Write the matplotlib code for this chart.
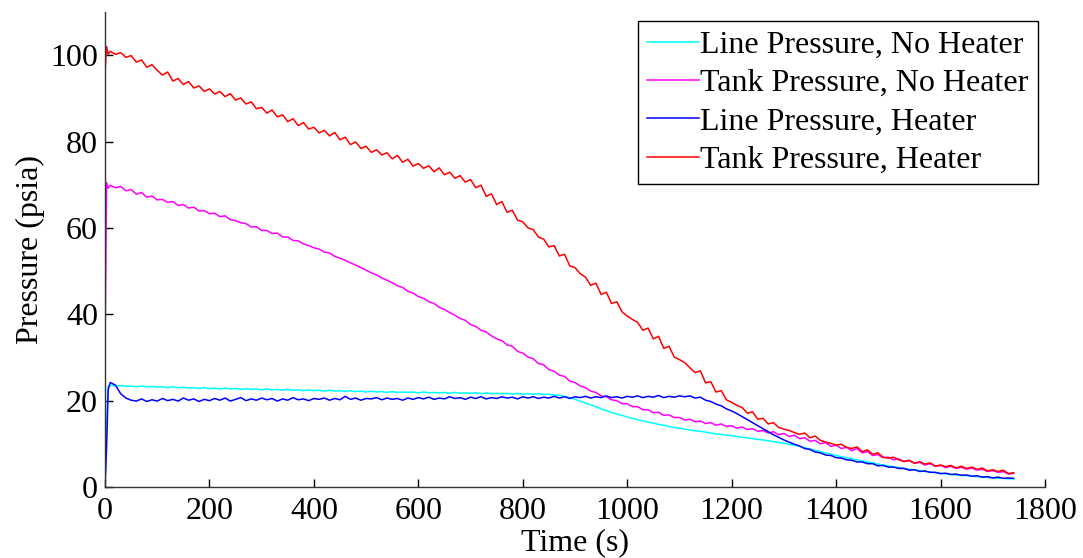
import numpy as np
import matplotlib
matplotlib.use("Agg")
import matplotlib.pyplot as plt

# logger samples: start-up transient, then one reading every 10 s
time_s = np.concatenate([[0, 3, 6], np.arange(10, 1750, 10)])

line_no_heater = [
    0.0, 14.0, 23.3,
    23.6, 23.4, 23.5, 23.3, 23.4, 23.2, 23.4, 23.2, 23.3, 23.1,
    23.2, 23.0, 23.2, 23.0, 23.1, 22.9, 23.0, 22.8, 23.0, 22.8,
    22.9, 22.7, 22.9, 22.7, 22.8, 22.6, 22.8, 22.6, 22.7, 22.5,
    22.7, 22.5, 22.6, 22.4, 22.6, 22.4, 22.5, 22.3, 22.5, 22.3,
    22.4, 22.2, 22.4, 22.2, 22.3, 22.1, 22.3, 22.1, 22.2, 22.0,
    22.2, 22.0, 22.1, 21.9, 22.1, 21.9, 22.0, 21.9, 22.0, 21.8,
    22.0, 21.8, 21.9, 21.8, 21.9, 21.7, 21.9, 21.7, 21.8, 21.7,
    21.8, 21.6, 21.8, 21.6, 21.7, 21.6, 21.7, 21.5, 21.7, 21.5,
    21.6, 21.5, 21.6, 21.4, 21.5, 21.3, 21.2, 21.0, 20.7, 20.3,
    19.9, 19.4, 19.0, 18.6, 18.1, 17.7, 17.3, 16.9, 16.6, 16.2,
    15.9, 15.6, 15.3, 15.0, 14.8, 14.5, 14.3, 14.0, 13.8, 13.6,
    13.4, 13.2, 13.0, 12.9, 12.7, 12.5, 12.3, 12.2, 12.0, 11.9,
    11.7, 11.5, 11.4, 11.2, 11.0, 10.9, 10.7, 10.5, 10.3, 10.1,
    9.9, 9.7, 9.4, 9.1, 8.8, 8.5, 8.2, 7.9, 7.6, 7.3,
    7.0, 6.8, 6.5, 6.3, 6.0, 5.8, 5.6, 5.3, 5.1, 4.9,
    4.7, 4.5, 4.3, 4.1, 4.0, 3.8, 3.6, 3.5, 3.3, 3.2,
    3.0, 2.9, 2.8, 2.7, 2.6, 2.5, 2.4, 2.3, 2.2, 2.1,
    2.0, 2.0, 1.9, 1.9,
]

tank_no_heater = [
    32.0, 70.5, 69.2,
    69.9, 69.3, 69.6, 68.6, 68.9, 67.8, 68.2, 67.1, 67.4, 66.5,
    66.6, 65.9, 66.1, 65.2, 65.4, 64.6, 64.8, 63.9, 64.0, 63.3,
    63.4, 62.6, 62.8, 61.9, 61.7, 61.2, 61.0, 60.2, 60.3, 59.4,
    59.4, 58.7, 58.8, 57.9, 57.9, 57.1, 57.0, 56.3, 55.9, 55.4,
    55.1, 54.4, 54.2, 53.4, 53.0, 52.5, 51.9, 51.4, 50.8, 50.2,
    49.6, 49.1, 48.4, 47.9, 47.3, 46.6, 46.2, 45.3, 44.9, 44.1,
    43.7, 42.9, 42.5, 41.6, 41.1, 40.4, 39.8, 39.0, 38.6, 37.6,
    37.2, 36.3, 35.9, 35.0, 34.3, 33.9, 32.9, 32.6, 31.4, 31.0,
    30.1, 29.7, 28.6, 28.3, 27.2, 26.8, 25.9, 25.6, 24.5, 24.2,
    23.4, 23.0, 22.2, 21.9, 21.1, 20.9, 20.2, 20.0, 19.3, 19.3,
    18.6, 18.6, 17.9, 17.9, 17.2, 17.3, 16.6, 16.7, 16.1, 16.1,
    15.5, 15.7, 15.1, 15.3, 14.7, 14.9, 14.3, 14.6, 14.0, 14.2,
    13.6, 13.9, 13.3, 13.5, 12.9, 13.1, 12.5, 12.8, 12.1, 12.4,
    11.7, 12.0, 11.2, 11.4, 10.6, 10.8, 10.0, 10.3, 9.4, 9.7,
    8.9, 9.2, 8.4, 8.9, 7.9, 8.2, 7.3, 7.5, 6.8, 6.9,
    6.3, 6.5, 5.9, 6.1, 5.5, 5.7, 5.1, 5.4, 4.8, 5.0,
    4.5, 4.8, 4.3, 4.6, 4.1, 4.4, 3.9, 4.1, 3.6, 3.8,
    3.4, 3.6, 3.0, 3.2,
]

line_heater = [
    0.0, 9.0, 22.5,
    24.2, 23.6, 21.6, 20.6, 20.1, 19.9, 20.4, 19.8, 20.2, 19.9,
    20.5, 20.0, 20.3, 19.9, 20.6, 20.1, 20.4, 19.8, 20.3, 20.0,
    20.5, 20.1, 20.6, 19.9, 20.3, 20.7, 20.0, 20.4, 20.1, 20.6,
    20.2, 20.5, 19.9, 20.4, 20.1, 20.7, 20.2, 20.4, 20.0, 20.5,
    20.3, 20.6, 20.1, 20.5, 20.2, 21.0, 20.3, 20.6, 20.1, 20.5,
    20.4, 20.7, 20.2, 20.6, 20.3, 20.5, 20.1, 20.6, 20.3, 20.7,
    20.4, 20.8, 20.3, 20.6, 20.4, 20.9, 20.5, 20.7, 20.3, 20.8,
    20.5, 20.9, 20.4, 20.7, 20.5, 20.9, 20.6, 20.8, 20.4, 20.9,
    20.6, 20.9, 20.5, 20.8, 20.6, 21.0, 20.6, 20.9, 20.5, 20.9,
    20.7, 21.0, 20.6, 20.9, 20.7, 21.1, 20.7, 20.9, 20.6, 21.0,
    20.8, 21.1, 20.7, 21.0, 20.8, 21.2, 20.7, 21.0, 20.8, 21.1,
    20.9, 21.1, 20.6, 20.8, 20.1, 19.8, 19.2, 18.8, 18.1, 17.6,
    17.0, 16.3, 15.6, 14.9, 14.2, 13.5, 12.8, 12.1, 11.5, 10.9,
    10.4, 9.9, 9.5, 8.9, 8.7, 8.1, 7.9, 7.4, 7.3, 6.8,
    6.7, 6.3, 6.2, 5.8, 5.8, 5.4, 5.4, 4.9, 5.0, 4.6,
    4.6, 4.3, 4.3, 3.9, 4.0, 3.6, 3.7, 3.4, 3.4, 3.1,
    3.2, 2.9, 3.0, 2.7, 2.8, 2.5, 2.6, 2.3, 2.4, 2.1,
    2.3, 2.0, 2.1, 2.0,
]

tank_heater = [
    96.0, 102.0, 100.2,
    100.9, 100.2, 100.6, 99.5, 99.9, 98.4, 98.9, 97.2, 97.8, 96.5,
    95.4, 96.1, 94.0, 94.6, 93.2, 93.9, 92.4, 92.9, 91.6, 92.2,
    91.0, 91.6, 90.4, 91.1, 89.6, 90.1, 88.7, 89.2, 87.6, 87.9,
    86.6, 87.3, 85.7, 86.2, 84.6, 85.3, 83.7, 84.4, 82.9, 83.3,
    82.0, 82.6, 81.3, 82.1, 80.4, 81.0, 79.3, 79.9, 78.4, 78.9,
    77.5, 78.1, 76.9, 77.4, 76.0, 76.8, 75.2, 75.9, 74.3, 74.9,
    73.8, 74.4, 73.0, 73.9, 72.3, 72.9, 71.5, 72.1, 70.6, 71.2,
    69.3, 69.9, 67.3, 67.9, 65.4, 66.1, 63.6, 64.1, 61.8, 61.4,
    60.0, 59.6, 57.9, 57.4, 55.6, 55.9, 53.5, 53.9, 51.2, 50.8,
    49.4, 48.6, 46.7, 47.2, 44.6, 45.1, 42.5, 42.9, 40.6, 39.6,
    38.8, 38.1, 36.3, 36.8, 34.3, 34.9, 32.1, 32.6, 30.1, 29.5,
    28.8, 27.6, 26.5, 26.9, 24.1, 24.4, 22.0, 22.3, 20.2, 19.6,
    18.9, 18.4, 17.1, 17.4, 15.7, 15.9, 14.6, 14.9, 13.8, 13.4,
    13.1, 12.6, 12.2, 12.5, 11.4, 11.8, 10.8, 10.4, 10.1, 9.7,
    9.9, 9.2, 8.9, 9.3, 8.2, 8.6, 7.6, 7.9, 6.9, 6.7,
    6.9, 6.3, 5.9, 6.2, 5.5, 5.9, 5.3, 5.6, 4.8, 5.1,
    4.7, 5.0, 4.4, 4.8, 4.3, 4.6, 4.1, 4.4, 3.7, 4.0,
    3.6, 3.9, 3.1, 3.3,
]

labels = [
    "Line Pressure, No Heater",
    "Tank Pressure, No Heater",
    "Line Pressure, Heater",
    "Tank Pressure, Heater",
]
colours = ["#00ffff", "#ff00ff", "#0000ff", "#ff0000"]

plt.rcParams["font.family"] = ["Liberation Serif", "DejaVu Serif"]
plt.rcParams["font.size"] = 23

fig = plt.figure(figsize=(10.83, 5.58), dpi=100)
ax = fig.add_axes([105 / 1083, 71 / 558, 940 / 1083, 475 / 558])

series = [line_no_heater, tank_no_heater, line_heater, tank_heater]
for y, nom, c in zip(series, labels, colours):
    ax.plot(time_s, y, color=c, lw=1.1, label=nom)

ax.set_xlim(0, 1800)
ax.set_ylim(0, 110)
ax.set_xticks(range(0, 1801, 200))
ax.set_yticks(range(0, 101, 20))
ax.tick_params(direction="in", length=6, width=1)
ax.tick_params(axis="x", pad=7)
ax.tick_params(axis="y", pad=5)
for cote in ["top", "right"]:
    ax.spines[cote].set_visible(False)
for cote in ["left", "bottom"]:
    ax.spines[cote].set_linewidth(1.0)
    ax.spines[cote].set_color("#333333")

ax.set_xlabel("Time (s)", labelpad=2)
ax.set_ylabel("Pressure (psia)", labelpad=4)

leg = ax.legend(loc="upper right", bbox_to_anchor=(933 / 940, 466 / 475),
                fancybox=False, edgecolor="black", framealpha=1,
                handlelength=1.6, handletextpad=0.05, borderpad=0.3,
                labelspacing=0.28, borderaxespad=0)
leg.get_frame().set_linewidth(1.0)

fig.savefig("out.png", dpi=100)
